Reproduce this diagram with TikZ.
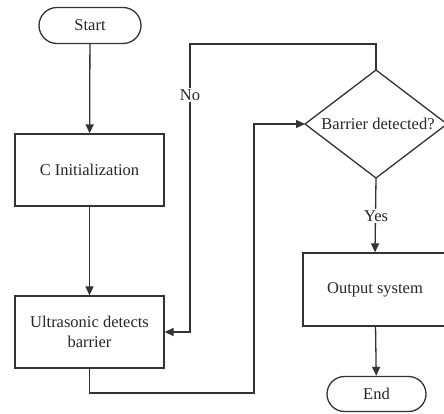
\documentclass[tikz,border=0pt]{standalone}
\usepackage{fontspec}
\setmainfont{Liberation Serif}
\usetikzlibrary{arrows.meta,shapes.misc}
\begin{document}
\begin{tikzpicture}[x=1pt,y=-1pt,
  every node/.style={font=\fontsize{16.5}{20}\selectfont, text=black!85},
  line/.style={draw=black!80, line width=1.3pt},
  arr/.style={line, -{Triangle[length=9pt,width=8pt]}},
  term/.style={line, rounded rectangle, minimum width=#1, minimum height=36pt, inner sep=0pt},
  procbox/.style={line, rectangle, minimum width=149pt, minimum height=72pt, inner sep=0pt, align=center},
  lbl/.style={fill=white, inner sep=1.5pt}]
\useasboundingbox (0,0) rectangle (444,413);
\node[term=102pt] (start) at (90,25.5) {Start};
\node[procbox] (init) at (89.5,170) {C Initialization};
\node[procbox] (ultra) at (89.5,332) {Ultrasonic detects\\barrier};
% decision diamond
\coordinate (dt) at (376,70);
\coordinate (dl) at (305,124);
\coordinate (db) at (376,178);
\coordinate (dr) at (447,124);
\draw[line] (dt) -- (dl) -- (db) -- (dr) -- cycle;
\node (dec) at (378,124) {Barrier detected?};
\node[procbox, minimum width=144pt, minimum height=73pt] (out) at (375,289.5) {Output system};
\node[term=99pt, minimum height=35pt] (end) at (376.5,394) {End};
\coordinate (j1) at (254,393);
\coordinate (j2) at (190,44);
\draw[arr] (start) -- (init);
\draw[arr] (init) -- (ultra);
\draw[arr] (ultra.south) |- (j1) |- (dl);
\draw[arr] (dt) |- (j2) |- (ultra.east);
\node[lbl] (no) at (190,95) {No};
\draw[arr] (db) -- (out.north);
\node[lbl] (yes) at (376,216) {Yes};
\draw[arr] (out) -- (end);
\end{tikzpicture}
\end{document}
